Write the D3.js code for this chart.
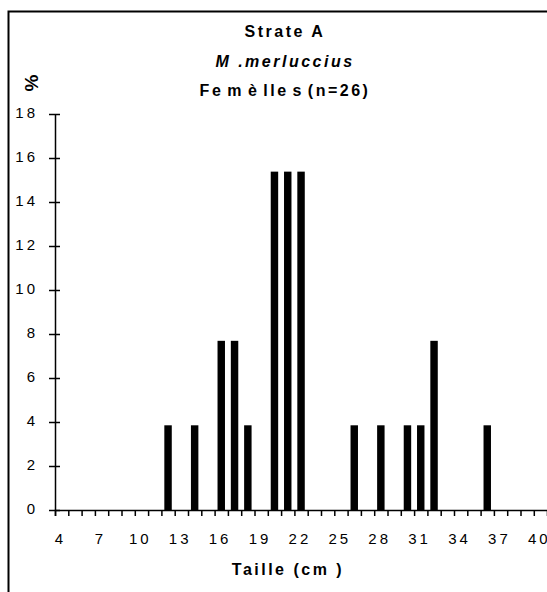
<!DOCTYPE html>
<html>

<head>
    <meta charset="utf-8" />
    <title>Strate A - M. merluccius</title>
    <script type="text/javascript" src="https://cdn.jsdelivr.net/npm/d3@7"></script>
    <style>
        body { margin: 0; background: #fff; }
        text { font-family: "Liberation Sans", Arial, sans-serif; fill: #000; }
    </style>
</head>

<body>
    <script type="text/javascript">
        // length classes (cm) and share of females (%)
        const tailles = d3.range(4, 41);
        const barTailles = [12, 14, 16, 17, 18, 20, 21, 22, 26, 28, 30, 31, 32, 36];
        const barPct = [3.85, 3.85, 7.69, 7.69, 3.85, 15.38, 15.38, 15.38, 3.85, 3.85, 3.85, 3.85, 7.69, 3.85];
        const yTicks = [0, 2, 4, 6, 8, 10, 12, 14, 16, 18];
        const xLabels = [4, 7, 10, 13, 16, 19, 22, 25, 28, 31, 34, 37, 40];
        const titles = ["Strate A", "M .merluccius", "Fe m è lle s (n=26)"];

        const width = 547, height = 592;
        const margin = { left: 55, top: 114, bottom: 82 };
        const step = 13.3;

        const svg = d3.select("body").append("svg")
            .attr("width", width)
            .attr("height", height);

        // frame
        svg.append("rect")
            .attr("x", 8.5).attr("y", 11.5)
            .attr("width", 700).attr("height", 700)
            .attr("fill", "none")
            .attr("stroke", "#000")
            .attr("stroke-width", 2);

        const x = d3.scaleBand()
            .domain(tailles)
            .range([margin.left, margin.left + step * tailles.length])
            .paddingInner(0.44)
            .paddingOuter(0.22);

        const xl = d3.scaleLinear()
            .domain([4, 41])
            .range([margin.left, margin.left + step * tailles.length]);

        const y = d3.scaleLinear()
            .domain([0, 18])
            .range([height - margin.bottom, margin.top]);

        // bars
        svg.append("g").selectAll("rect")
            .data(barTailles)
            .join("rect")
            .attr("x", d => x(d))
            .attr("width", x.bandwidth())
            .attr("y", (d, i) => y(barPct[i]))
            .attr("height", (d, i) => y(0) - y(barPct[i]))
            .attr("fill", "#000");

        // x axis: ticks between classes
        const xAxisG = svg.append("g")
            .attr("transform", `translate(0,${y(0)})`)
            .call(d3.axisBottom(xl)
                .tickValues(d3.range(4, 42))
                .tickSize(6)
                .tickFormat(""));
        xAxisG.select(".domain").attr("stroke-width", 1.5);
        xAxisG.selectAll(".tick line").attr("stroke-width", 1.5);

        svg.append("g").selectAll("text")
            .data(xLabels)
            .join("text")
            .attr("x", d => xl(d) + 5.5)
            .attr("y", y(0) + 34)
            .attr("text-anchor", "middle")
            .style("font-size", "15px")
            .style("letter-spacing", "3px")
            .text(d => d);

        // y axis with crossing ticks
        const yAxisG = svg.append("g")
            .attr("transform", `translate(${margin.left},0)`)
            .call(d3.axisLeft(y)
                .tickValues(yTicks)
                .tickSizeInner(6)
                .tickSizeOuter(0)
                .tickPadding(11));
        yAxisG.select(".domain").attr("stroke-width", 1.5);
        yAxisG.selectAll(".tick line").attr("x1", 5).attr("stroke-width", 1.5);
        yAxisG.selectAll(".tick text")
            .attr("dy", "0.2em")
            .style("font-size", "15px")
            .style("letter-spacing", "3px")
            .style("font-family", "'Liberation Sans', Arial, sans-serif");

        // titles
        svg.append("g").selectAll("text")
            .data(titles)
            .join("text")
            .attr("x", 285)
            .attr("y", (d, i) => [37, 67, 96][i])
            .attr("text-anchor", "middle")
            .style("font-size", "16px")
            .style("font-weight", "bold")
            .style("font-style", (d, i) => i === 1 ? "italic" : "normal")
            .style("letter-spacing", "2.5px")
            .style("word-spacing", (d, i) => i === 2 ? "-3px" : "0px")
            .text(d => d);

        svg.append("text")
            .attr("transform", "translate(38,83) rotate(-90)")
            .attr("text-anchor", "middle")
            .style("font-size", "19px")
            .style("font-weight", "bold")
            .text("%");

        svg.append("text")
            .attr("x", 288)
            .attr("y", 575)
            .attr("text-anchor", "middle")
            .style("font-size", "16px")
            .style("font-weight", "bold")
            .style("letter-spacing", "2.5px")
            .text("Taille (cm )");
    </script>
</body>

</html>
